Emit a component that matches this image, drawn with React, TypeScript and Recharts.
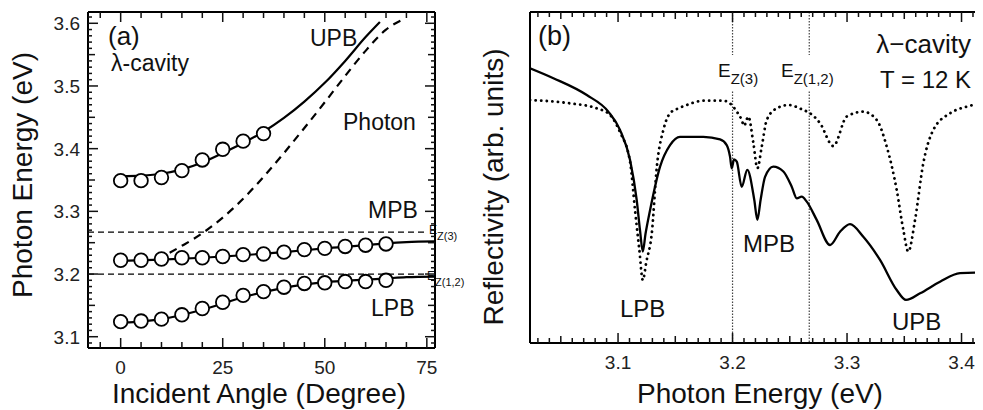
import React from 'react';
import { ComposedChart, Line, Scatter, XAxis, YAxis, ReferenceLine } from 'recharts';

const FONT = '"Liberation Sans", Arial, Helvetica, sans-serif';

// ---- panel (a): dispersion vs incident angle
const circleAngles = [0, 5, 10, 15, 20, 25, 30, 35, 40, 45, 50, 55, 60, 65];
const upbCircles = [3.349, 3.349, 3.354, 3.365, 3.382, 3.399, 3.412, 3.424];
const mpbCircles = [3.222, 3.222, 3.224, 3.226, 3.226, 3.228, 3.231, 3.232, 3.235, 3.239, 3.241, 3.244, 3.246, 3.248];
const lpbCircles = [3.124, 3.125, 3.128, 3.135, 3.145, 3.155, 3.166, 3.172, 3.179, 3.185, 3.186, 3.188, 3.188, 3.19];

const upbFitAngles = [0, 5, 10, 15, 20, 25, 30, 35, 40, 45, 50, 55, 60, 63.5];
const upbFit = [3.356, 3.357, 3.36, 3.367, 3.378, 3.393, 3.409, 3.427, 3.449, 3.475, 3.505, 3.54, 3.578, 3.602];
const fitAngles = [0, 10, 20, 30, 40, 50, 60, 65, 70, 77];
const mpbFit = [3.221, 3.223, 3.226, 3.23, 3.235, 3.241, 3.246, 3.249, 3.251, 3.252];
const lpbFit = [3.122, 3.128, 3.143, 3.163, 3.178, 3.187, 3.191, 3.193, 3.195, 3.196];
const photonAngles = [12, 15, 20, 25, 30, 35, 40, 45, 50, 55, 60, 65, 69.5];
const photonE = [3.234, 3.245, 3.265, 3.29, 3.32, 3.355, 3.393, 3.433, 3.474, 3.516, 3.556, 3.59, 3.607];

const ez3 = 3.267;
const ez12 = 3.2;

const angleLabels = [0, 25, 50, 75];
const energyLabelsA = [3.1, 3.2, 3.3, 3.4, 3.5, 3.6];

// ---- panel (b): reflectivity spectra
const solidE = [3.0231, 3.0435, 3.0727, 3.0915, 3.1017, 3.1105, 3.1163, 3.1192, 3.1216, 3.124, 3.128, 3.1367, 3.1454, 3.1541, 3.1745, 3.1891, 3.1949, 3.1978, 3.1993, 3.2013, 3.2037, 3.208, 3.2129, 3.219, 3.2217, 3.2245, 3.2284, 3.2356, 3.2444, 3.2517, 3.2561, 3.2604, 3.2648, 3.2735, 3.2852, 3.2939, 3.3026, 3.3142, 3.3288, 3.3434, 3.3515, 3.3638, 3.3812, 3.3987, 3.4188, 3.4336];
const solidR = [83.0, 80.0, 74.9, 69.9, 64.4, 55.3, 43.2, 34.0, 27.6, 33.0, 40.2, 53.3, 59.8, 62.3, 62.3, 61.5, 59.8, 56.3, 52.8, 55.5, 54.8, 47.2, 52.3, 43.2, 37.2, 43.2, 50.2, 53.3, 51.8, 47.2, 43.7, 44.2, 42.7, 37.2, 29.6, 33.6, 35.9, 32.1, 25.1, 16.0, 13.0, 15.0, 18.5, 21.1, 21.3, 21.0];
const dotE = [3.0231, 3.0581, 3.0814, 3.093, 3.1017, 3.1105, 3.1148, 3.1186, 3.1216, 3.1247, 3.1295, 3.1339, 3.1396, 3.1454, 3.1527, 3.16, 3.1745, 3.192, 3.1993, 3.2037, 3.208, 3.21, 3.2138, 3.2182, 3.2217, 3.2255, 3.2299, 3.2386, 3.2487, 3.2618, 3.2677, 3.2764, 3.288, 3.2997, 3.3142, 3.3259, 3.3347, 3.3434, 3.3492, 3.3535, 3.3594, 3.3666, 3.3754, 3.39, 3.4045, 3.4188, 3.4336];
const dotR = [73.4, 72.4, 70.9, 68.9, 63.7, 54.7, 40.2, 28.1, 19.0, 24.5, 33.2, 53.3, 64.4, 69.4, 70.9, 71.9, 73.2, 73.2, 71.9, 69.9, 67.4, 65.6, 68.4, 60.4, 52.8, 59.3, 67.4, 70.9, 71.9, 70.4, 69.4, 66.4, 59.5, 68.4, 69.9, 67.4, 59.3, 46.2, 34.1, 27.6, 37.2, 54.3, 64.4, 69.4, 71.4, 72.4, 72.8];
const energyLabelsB = [3.1, 3.2, 3.3, 3.4];

const pts = (xs: number[], ys: number[]) => ys.map((y, i) => ({ x: xs[i], y }));

const steps = (from: number, to: number, step: number) => {
  const out: number[] = [];
  const n = Math.round((to - from) / step);
  for (let i = 0; i <= n; i++) out.push(+(from + i * step).toFixed(4));
  return out;
};
const isMult = (v: number, m: number) => Math.abs(v / m - Math.round(v / m)) < 1e-6;

const domAX: [number, number] = [-8, 77];
const domAY: [number, number] = [3.082, 3.618];
const domBX: [number, number] = [3.0231, 3.4336];
const domBY: [number, number] = [0, 100];

const angleTicks = steps(-5, 75, 5);
const angleLen = (v: number) => (isMult(v, 25) ? 10 : 6);
const energyTicksA = steps(3.09, 3.61, 0.01);
const energyLenA = (v: number) => (isMult(v, 0.1) ? 10 : isMult(v, 0.05) ? 7 : 4);
const energyTicksB = steps(3.03, 3.43, 0.01);
const energyLenB = (v: number) => (isMult(v, 0.1) ? 10 : isMult(v, 0.05) ? 7 : 5);

type Side = 'bottom' | 'top' | 'left' | 'right';
const makeTick = (side: Side, len: (v: number) => number, labels?: number[], fmt?: (v: number) => string) =>
  (props: any) => {
    const x = Number(props.x);
    const y = Number(props.y);
    const v = Number(props.payload.value);
    const l = len(v);
    const dx = side === 'left' ? l : side === 'right' ? -l : 0;
    const dy = side === 'bottom' ? -l : side === 'top' ? l : 0;
    const show = !!labels && labels.some((t) => Math.abs(t - v) < 1e-6);
    const txt = show ? (fmt ? fmt(v) : String(v)) : '';
    return (
      <g>
        <line x1={x} y1={y} x2={x + dx} y2={y + dy} stroke="#111" strokeWidth={1.5} />
        {txt !== '' && side === 'bottom' && (
          <text x={x} y={y + 26} textAnchor="middle" fontSize={19} fontFamily={FONT} fill="#222">{txt}</text>
        )}
        {txt !== '' && side === 'left' && (
          <text x={x - 8} y={y + 7} textAnchor="end" fontSize={19} fontFamily={FONT} fill="#222">{txt}</text>
        )}
      </g>
    );
  };

const tickBottomA = makeTick('bottom', angleLen, angleLabels);
const tickTopA = makeTick('top', angleLen);
const tickLeftA = makeTick('left', energyLenA, energyLabelsA, (v) => v.toFixed(1));
const tickRightA = makeTick('right', energyLenA);
const tickBottomB = makeTick('bottom', energyLenB, energyLabelsB, (v) => v.toFixed(1));
const tickTopB = makeTick('top', energyLenB);

const axisLine = { stroke: '#000', strokeWidth: 2 };

const Circle = (p: any) => <circle cx={p.cx} cy={p.cy} r={6.8} fill="#fff" stroke="#000" strokeWidth={1.8} />;

const T = (p: { x: number; y: number; size: number; children: React.ReactNode; anchor?: string; rotate?: boolean }) => (
  <text x={p.x} y={p.y} fontSize={p.size} fontFamily={FONT} fill="#111" textAnchor={p.anchor || 'start'}
    dominantBaseline={p.rotate ? 'central' : undefined}
    transform={p.rotate ? `rotate(-90 ${p.x} ${p.y})` : undefined}>{p.children}</text>
);

const PanelA = () => (
  <ComposedChart width={470} height={410} margin={{ top: 0, right: 0, bottom: 0, left: 0 }}>
    <XAxis xAxisId="b" dataKey="x" type="number" domain={domAX} allowDataOverflow ticks={angleTicks} interval={0}
      tickSize={0} tickMargin={0} tickLine={false} axisLine={axisLine} height={62} tick={tickBottomA} />
    <XAxis xAxisId="t" orientation="top" dataKey="x" type="number" domain={domAX} allowDataOverflow ticks={angleTicks} interval={0}
      tickSize={0} tickMargin={0} tickLine={false} axisLine={axisLine} height={12} tick={tickTopA} />
    <YAxis yAxisId="l" dataKey="y" type="number" domain={domAY} allowDataOverflow ticks={energyTicksA} interval={0}
      tickSize={0} tickMargin={0} tickLine={false} axisLine={axisLine} width={88} tick={tickLeftA} />
    <YAxis yAxisId="r" orientation="right" dataKey="y" type="number" domain={domAY} allowDataOverflow ticks={energyTicksA} interval={0}
      tickSize={0} tickMargin={0} tickLine={false} axisLine={axisLine} width={35} tick={tickRightA} />
    <ReferenceLine xAxisId="b" yAxisId="l" segment={[{ x: -8, y: ez3 }, { x: 75, y: ez3 }]} stroke="#000" strokeWidth={1.3} strokeDasharray="6 4" />
    <ReferenceLine xAxisId="b" yAxisId="l" segment={[{ x: -8, y: ez12 }, { x: 75, y: ez12 }]} stroke="#000" strokeWidth={1.3} strokeDasharray="6 4" />
    <Line xAxisId="b" yAxisId="l" data={pts(photonAngles, photonE)} dataKey="y" type="monotone" stroke="#000" strokeWidth={2.2}
      strokeDasharray="8 6" dot={false} isAnimationActive={false} />
    <Line xAxisId="b" yAxisId="l" data={pts(upbFitAngles, upbFit)} dataKey="y" type="monotone" stroke="#000" strokeWidth={2.2} dot={false} isAnimationActive={false} />
    <Line xAxisId="b" yAxisId="l" data={pts(fitAngles, mpbFit)} dataKey="y" type="monotone" stroke="#000" strokeWidth={2.2} dot={false} isAnimationActive={false} />
    <Line xAxisId="b" yAxisId="l" data={pts(fitAngles, lpbFit)} dataKey="y" type="monotone" stroke="#000" strokeWidth={2.2} dot={false} isAnimationActive={false} />
    <Scatter xAxisId="b" yAxisId="l" data={pts(circleAngles, upbCircles)} dataKey="y" shape={Circle} isAnimationActive={false} />
    <Scatter xAxisId="b" yAxisId="l" data={pts(circleAngles, mpbCircles)} dataKey="y" shape={Circle} isAnimationActive={false} />
    <Scatter xAxisId="b" yAxisId="l" data={pts(circleAngles, lpbCircles)} dataKey="y" shape={Circle} isAnimationActive={false} />
    <T x={108} y={45} size={26}>(a)</T>
    <T x={111} y={71} size={23}>λ-cavity</T>
    <T x={310} y={46} size={23}>UPB</T>
    <T x={343} y={130} size={23}>Photon</T>
    <T x={368} y={218} size={23}>MPB</T>
    <T x={371} y={316} size={23}>LPB</T>
    <text x={429} y={234} fontSize={12} fontFamily={FONT} fill="#111">E<tspan fontSize={11} dy={6}>Z(3)</tspan></text>
    <text x={427} y={280} fontSize={12} fontFamily={FONT} fill="#111">E<tspan fontSize={11} dy={6}>Z(1,2)</tspan></text>
    <T x={22} y={175} size={28} anchor="middle" rotate>Photon Energy (eV)</T>
    <T x={259} y={403} size={28} anchor="middle">Incident Angle (Degree)</T>
  </ComposedChart>
);

// panel (b) chart starts at x = 440 on the page; texts below are in its own coordinates
const PanelB = () => (
  <ComposedChart width={600} height={410} margin={{ top: 0, right: 0, bottom: 0, left: 0 }}>
    <XAxis xAxisId="b" dataKey="x" type="number" domain={domBX} allowDataOverflow ticks={energyTicksB} interval={0}
      tickSize={0} tickMargin={0} tickLine={false} axisLine={axisLine} height={67} tick={tickBottomB} />
    <XAxis xAxisId="t" orientation="top" dataKey="x" type="number" domain={domBX} allowDataOverflow ticks={energyTicksB} interval={0}
      tickSize={0} tickMargin={0} tickLine={false} axisLine={axisLine} height={12} tick={tickTopB} />
    <YAxis yAxisId="l" dataKey="y" type="number" domain={domBY} allowDataOverflow tick={false} tickLine={false}
      axisLine={axisLine} width={90} />
    <YAxis yAxisId="r" orientation="right" dataKey="y" type="number" domain={domBY} allowDataOverflow tick={false} tickLine={false}
      axisLine={axisLine} width={40} />
    {[3.2, ez3].map((e) => (
      <ReferenceLine key={'u' + e} xAxisId="b" yAxisId="l" segment={[{ x: e, y: 100 }, { x: e, y: 87 }]} stroke="#444" strokeWidth={1.2} strokeDasharray="1.5 1.5" />
    ))}
    {[3.2, ez3].map((e) => (
      <ReferenceLine key={'d' + e} xAxisId="b" yAxisId="l" segment={[{ x: e, y: 76 }, { x: e, y: 0 }]} stroke="#444" strokeWidth={1.2} strokeDasharray="1.5 1.5" />
    ))}
    <Line xAxisId="b" yAxisId="l" data={pts(dotE, dotR)} dataKey="y" type="monotone" stroke="#000" strokeWidth={2.8}
      strokeDasharray="0.1 5.5" strokeLinecap="round" dot={false} isAnimationActive={false} />
    <Line xAxisId="b" yAxisId="l" data={pts(solidE, solidR)} dataKey="y" type="monotone" stroke="#000" strokeWidth={2.3}
      dot={false} isAnimationActive={false} />
    <T x={98} y={45} size={27}>(b)</T>
    <T x={531} y={53} size={26} anchor="end">λ−cavity</T>
    <T x={531} y={88} size={24} anchor="end">T = 12 K</T>
    <text x={278} y={77} fontSize={19} fontFamily={FONT} fill="#111">E<tspan fontSize={15} dy={7}>Z(3)</tspan></text>
    <text x={341} y={77} fontSize={19} fontFamily={FONT} fill="#111">E<tspan fontSize={15} dy={7}>Z(1,2)</tspan></text>
    <T x={180} y={317} size={24}>LPB</T>
    <T x={303} y={252} size={24}>MPB</T>
    <T x={452} y={330} size={24}>UPB</T>
    <T x={53} y={187} size={28} anchor="middle" rotate>Reflectivity (arb. units)</T>
    <T x={320} y={403} size={28} anchor="middle">Photon Energy (eV)</T>
  </ComposedChart>
);

export default function App() {
  return (
    <div style={{ display: 'flex', width: 983, height: 410, overflow: 'hidden', margin: '-8px 0 0 -8px' }}>
      <div style={{ flex: '0 0 470px' }}><PanelA /></div>
      <div style={{ flex: '0 0 600px', marginLeft: -30 }}><PanelB /></div>
    </div>
  );
}
